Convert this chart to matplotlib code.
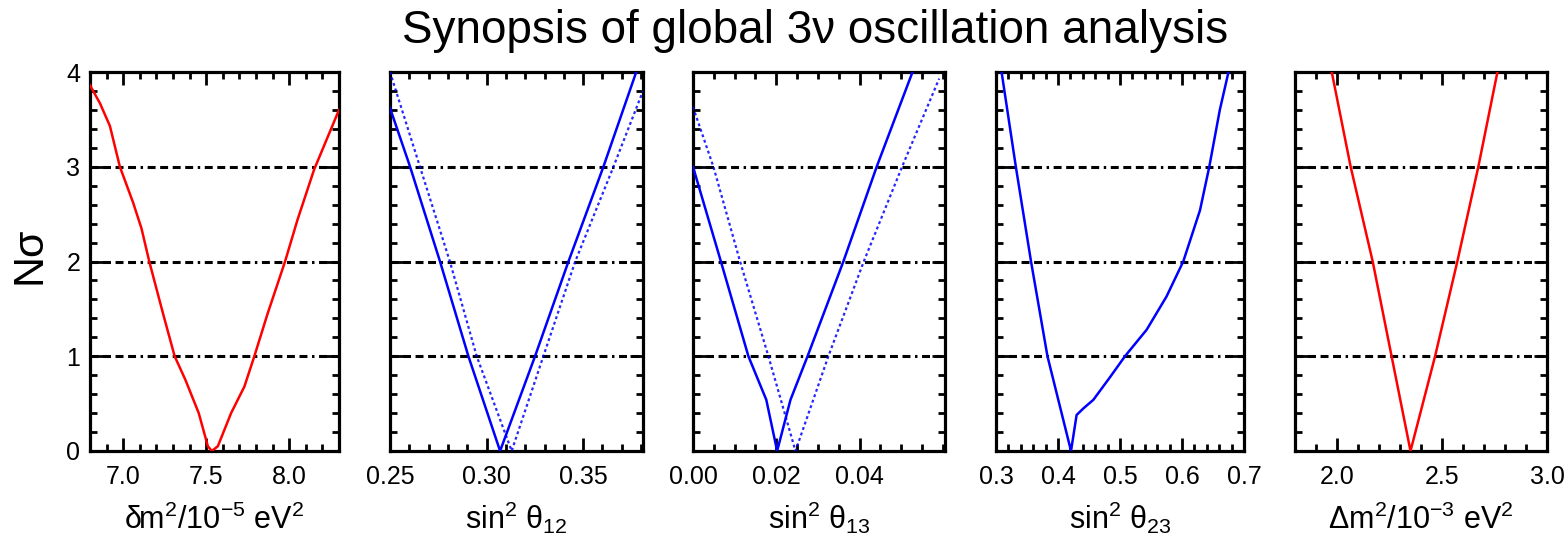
import matplotlib
matplotlib.use("Agg")
import matplotlib.pyplot as plt
from matplotlib.ticker import MultipleLocator, FixedLocator, FormatStrFormatter

plt.rcParams['font.family'] = ['Liberation Sans', 'DejaVu Sans']
plt.rcParams['mathtext.fontset'] = 'custom'
plt.rcParams['mathtext.rm'] = 'Liberation Sans'
plt.rcParams['mathtext.it'] = 'Liberation Sans:italic'
plt.rcParams['mathtext.bf'] = 'Liberation Sans:bold'
plt.rcParams['mathtext.default'] = 'regular'

# ---- data ----
dm2_x = [6.80, 6.86, 6.92, 6.98, 7.06, 7.11, 7.157, 7.24, 7.31, 7.375, 7.455, 7.51, 7.534,
         7.57, 7.65, 7.73, 7.79, 7.87, 7.975, 8.05, 8.15, 8.30]
dm2_y = [3.86, 3.67, 3.43, 3.0, 2.62, 2.35, 2.0, 1.45, 1.0, 0.75, 0.40, 0.05, 0.0,
         0.05, 0.40, 0.68, 1.0, 1.45, 2.0, 2.44, 2.97, 3.6]

s12_x = [0.25, 0.2604, 0.2759, 0.2906, 0.307, 0.3251, 0.3424, 0.3605, 0.3775]
s12_y = [3.62, 3.0, 2.0, 1.0, 0.0, 1.0, 2.0, 3.0, 4.0]
s12d_x = [0.25, 0.2655, 0.281, 0.2949, 0.313, 0.3294, 0.3459, 0.3657, 0.381]
s12d_y = [4.0, 3.0, 2.0, 1.0, 0.0, 1.0, 2.0, 3.0, 3.8]

s13_x = [0.0, 0.0067, 0.0133, 0.0176, 0.0202, 0.0234, 0.0275, 0.0361, 0.0441, 0.0527]
s13_y = [3.0, 2.0, 1.0, 0.54, 0.0, 0.54, 1.0, 2.0, 3.0, 4.0]
s13d_x = [0.0, 0.0049, 0.0113, 0.0181, 0.0246, 0.0325, 0.0410, 0.0502, 0.0591]
s13d_y = [3.63, 3.0, 2.0, 1.0, 0.0, 1.0, 2.0, 3.0, 3.93]

s23_x = [0.309, 0.332, 0.3565, 0.383, 0.421, 0.430, 0.441, 0.457, 0.484, 0.508, 0.543,
         0.575, 0.602, 0.629, 0.644, 0.661, 0.675]
s23_y = [4.0, 3.0, 2.0, 1.0, 0.0, 0.38, 0.45, 0.54, 0.78, 1.0, 1.28,
         1.63, 2.0, 2.54, 3.0, 3.6, 4.0]

Dm2_x = [1.975, 2.065, 2.17, 2.26, 2.350, 2.467, 2.573, 2.673, 2.764]
Dm2_y = [4.0, 3.0, 2.0, 1.0, 0.0, 1.0, 2.0, 3.0, 4.0]

xlims = [(6.8, 8.3), (0.25, 0.381), (0.0, 0.0605), (0.3, 0.7), (1.8, 3.0)]
xmajor = [[7.0, 7.5, 8.0], [0.25, 0.30, 0.35], [0.00, 0.02, 0.04],
          [0.3, 0.4, 0.5, 0.6, 0.7], [2.0, 2.5, 3.0]]
xminor_step = [0.1, 0.01, 0.005, 0.02, 0.1]
xfmt = ['%.1f', '%.2f', '%.2f', '%.1f', '%.1f']
xlabels = ['δm$^2$/10$^{-5}$ eV$^2$', 'sin$^2$ θ$_{12}$', 'sin$^2$ θ$_{13}$',
           'sin$^2$ θ$_{23}$', 'Δm$^2$/10$^{-3}$ eV$^2$']
yticks = [0, 1, 2, 3, 4]
nsigma_levels = [1, 2, 3]

W, H = 1566, 546
fig = plt.figure(figsize=(W / 100, H / 100), dpi=100)
lefts = [90, 390, 693, 996, 1295]
rights = [339, 643, 945, 1244, 1547]
top_px, bot_px = 72, 451

RED = '#ff0000'
BLUE = '#0000ff'
curves = [
    [(dm2_x, dm2_y, RED, '-')],
    [(s12_x, s12_y, BLUE, '-'), (s12d_x, s12d_y, BLUE, ':')],
    [(s13_x, s13_y, BLUE, '-'), (s13d_x, s13d_y, BLUE, ':')],
    [(s23_x, s23_y, BLUE, '-')],
    [(Dm2_x, Dm2_y, RED, '-')],
]

for i in range(5):
    ax = fig.add_axes([lefts[i] / W, 1 - bot_px / H, (rights[i] - lefts[i]) / W,
                       (bot_px - top_px) / H])
    for lv in nsigma_levels:
        ax.axhline(lv, color='black', lw=2.2,
                   dashes=(2.6, 1.5, 2.6, 1.5, 2.6, 1.5, 2.6, 1.5, 0.8, 1.5), zorder=2)
    for (xs, ys, c, ls) in curves[i]:
        if ls == ':':
            ax.plot(xs, ys, color=c, lw=1.6, dashes=(1.3, 1.3), alpha=0.85, zorder=3)
        else:
            ax.plot(xs, ys, color=c, lw=1.8, zorder=3)
    ax.set_xlim(*xlims[i])
    ax.set_ylim(0, 4)
    ax.xaxis.set_major_locator(FixedLocator(xmajor[i]))
    ax.xaxis.set_minor_locator(MultipleLocator(xminor_step[i]))
    ax.xaxis.set_major_formatter(FormatStrFormatter(xfmt[i]))
    ax.yaxis.set_major_locator(FixedLocator(yticks))
    ax.yaxis.set_minor_locator(MultipleLocator(0.2))
    ax.yaxis.set_major_formatter(FormatStrFormatter('%d'))
    ax.tick_params(which='both', direction='in', top=True, right=True, width=2.0,
                   labelsize=18, colors='black')
    ax.tick_params(which='major', length=9.5)
    ax.tick_params(which='minor', length=5)
    ax.tick_params(axis='x', which='major', pad=10)
    ax.tick_params(axis='y', which='major', pad=7)
    if i != 0:
        ax.tick_params(axis='y', labelleft=False)
    for sp in ax.spines.values():
        sp.set_linewidth(2.3)
    ax.text(0.5, (bot_px - 529) / (bot_px - top_px), xlabels[i], transform=ax.transAxes,
            ha='center', va='baseline', fontsize=22)

fig.text(815 / W, 1 - 31 / H, 'Synopsis of global 3ν oscillation analysis',
         ha='center', va='center', fontsize=33)
fig.text(30 / W, 1 - 255 / H, 'Nσ', rotation=90, ha='center', va='center', fontsize=31)

fig.savefig('out.png', dpi=100)
